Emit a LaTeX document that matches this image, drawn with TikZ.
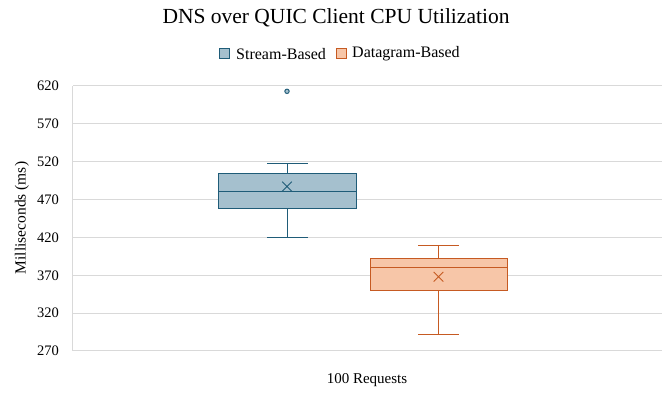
\documentclass[tikz,border=0pt]{standalone}
\usepackage{fontspec}
\setmainfont{Liberation Serif}
\definecolor{gridgray}{HTML}{D9D9D9}
\definecolor{streamedge}{HTML}{1F5C78}
\definecolor{streamfill}{HTML}{A5C0CE}
\definecolor{dgramedge}{HTML}{C65A22}
\definecolor{dgramfill}{HTML}{F7C6A8}
\tikzset{
  grid line/.style={gridgray, line width=1pt},
  tick label/.style={anchor=east, font=\fontsize{14.5}{16}\selectfont, inner sep=0pt},
  legend text/.style={anchor=west, font=\fontsize{16}{18}\selectfont, inner sep=0pt},
  box stream/.style={draw=streamedge, fill=streamfill, line width=1pt},
  box dgram/.style={draw=dgramedge, fill=dgramfill, line width=1pt},
  whisker/.style={line width=1pt},
  mean mark/.style={line width=0.9pt},
}
\begin{document}
\begin{tikzpicture}[x=1pt, y=-1pt]
\useasboundingbox[fill=white] (0,0) rectangle (667,393);

% title and legend
\node[font=\fontsize{21.5}{24}\selectfont] (title) at (336,18) {DNS over QUIC Client CPU Utilization};
\node[box stream, minimum size=10pt, inner sep=0pt, line width=0.9pt] (lgs) at (224.5,53.5) {};
\node[legend text] (lgst) at (236,54) {Stream-Based};
\node[box dgram, minimum size=10pt, inner sep=0pt, line width=0.9pt] (lgd) at (341,53.5) {};
\node[legend text] (lgdt) at (352,54) {Datagram-Based};

% axis titles
\node[rotate=90, font=\fontsize{15.5}{17}\selectfont] (ylab) at (22,218) {Milliseconds (ms)};
\node[font=\fontsize{15}{17}\selectfont] (xlab) at (367,380) {100 Requests};

% data frame: value v sits at pixel row 86 + (620 - v) * 0.7571
\begin{scope}[yshift=-555.4pt, y=0.7571pt]
  \foreach \v in {270,320,...,620} {
    \draw[grid line] (73,\v) -- (662,\v);
    \node[tick label] at (59,\v) {\v};
  }
  \draw[grid line] (72.5,270) -- (72.5,620);

  % Stream-Based
  \coordinate (sTop) at (287,517);
  \coordinate (sBot) at (287,420);
  \draw[streamedge, whisker] (sTop) -- (287,505) (287,458.5) -- (sBot);
  \draw[streamedge, whisker] (267,517) -- (308,517) (267,420) -- (308,420);
  \draw[box stream] (218,458.5) rectangle (356,505);
  \draw[streamedge, whisker] (218,480.4) -- (356,480.4);
  \draw[streamedge, mean mark] (282.2,493.5) -- (291.8,480.8) (282.2,480.8) -- (291.8,493.5);
  \draw[streamedge, line width=1pt, fill=streamfill] (287,613) circle (2.2pt);

  % Datagram-Based
  \coordinate (dTop) at (438.5,409);
  \coordinate (dBot) at (438.5,292);
  \draw[dgramedge, whisker] (dTop) -- (438.5,392.4) (438.5,350) -- (dBot);
  \draw[dgramedge, whisker] (418,409) -- (459,409) (418,292) -- (459,292);
  \draw[box dgram] (370,350) rectangle (507,392.4);
  \draw[dgramedge, whisker] (370,380) -- (507,380);
  \draw[dgramedge, mean mark] (433.7,374.4) -- (443.3,361.6) (433.7,361.6) -- (443.3,374.4);
\end{scope}
\end{tikzpicture}
\end{document}
